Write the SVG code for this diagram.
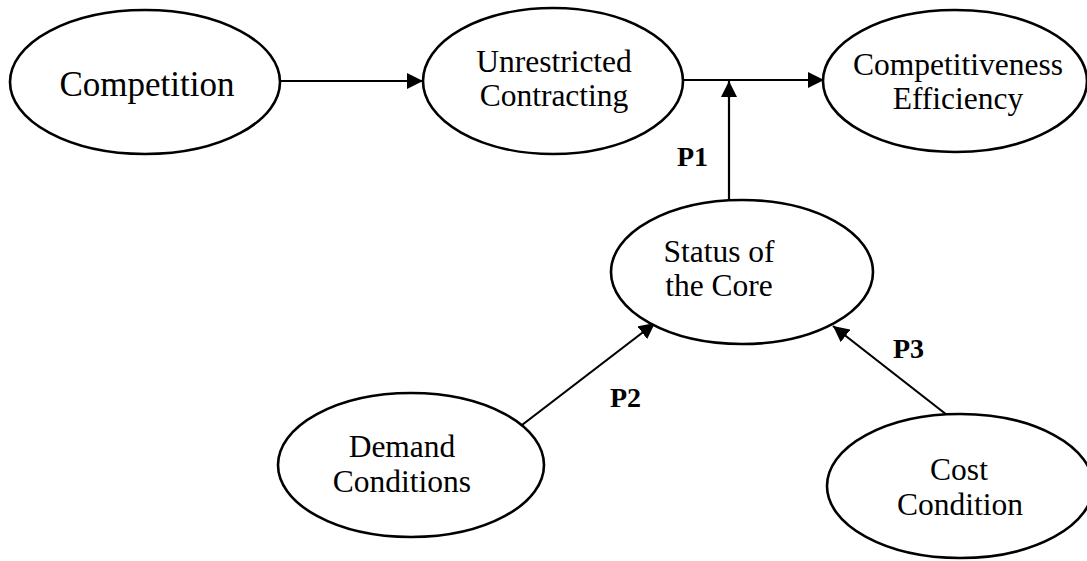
<svg xmlns="http://www.w3.org/2000/svg" width="1087" height="561" viewBox="0 0 1087 561">
<style>
.node ellipse{fill:#fff;stroke:#000;stroke-width:2.6}
.lbl{font-family:"Liberation Serif","Times New Roman",serif;font-size:31.5px;fill:#000;text-anchor:middle}
.p{font-family:"Liberation Serif","Times New Roman",serif;font-size:28px;font-weight:bold;fill:#000}
.conn line{stroke:#000;stroke-width:2.2;fill:none}
</style>
<defs>
<marker id="arr" markerUnits="userSpaceOnUse" markerWidth="18" markerHeight="16" refX="16" refY="8" orient="auto">
<path d="M0,0 L16,8 L0,16 Z" fill="#000"/>
</marker>
</defs>
<rect width="1087" height="561" fill="#fff"/>
<g class="conn" id="connectors">
<line x1="280" y1="81" x2="423" y2="81" marker-end="url(#arr)"/>
<line x1="682" y1="80" x2="824" y2="80" marker-end="url(#arr)"/>
<line x1="729" y1="200" x2="729" y2="81" marker-end="url(#arr)"/>
<line x1="522" y1="425" x2="655" y2="323" marker-end="url(#arr)"/>
<line x1="947" y1="415" x2="833" y2="326" marker-end="url(#arr)"/>
</g>
<g class="node" id="competition">
<ellipse cx="145" cy="82" rx="135" ry="72"/>
<text class="lbl" x="147" y="96" style="font-size:35px">Competition</text>
</g>
<g class="node" id="unrestricted">
<ellipse cx="553" cy="81" rx="130" ry="73"/>
<text class="lbl" x="554" y="72">Unrestricted</text>
<text class="lbl" x="554" y="106">Contracting</text>
</g>
<g class="node" id="competitiveness">
<ellipse cx="955" cy="81" rx="132" ry="71"/>
<text class="lbl" x="958" y="75">Competitiveness</text>
<text class="lbl" x="958" y="109">Efficiency</text>
</g>
<g class="node" id="status">
<ellipse cx="742" cy="272" rx="131" ry="72"/>
<text class="lbl" x="719" y="262">Status of</text>
<text class="lbl" x="719" y="296">the Core</text>
</g>
<g class="node" id="demand">
<ellipse cx="411" cy="465" rx="133" ry="72"/>
<text class="lbl" x="402" y="457">Demand</text>
<text class="lbl" x="402" y="492">Conditions</text>
</g>
<g class="node" id="cost">
<ellipse cx="960" cy="486" rx="133" ry="72"/>
<text class="lbl" x="959" y="480">Cost</text>
<text class="lbl" x="960" y="515">Condition</text>
</g>
<g id="labels">
<text class="p" x="677" y="166">P1</text>
<text class="p" x="610" y="407">P2</text>
<text class="p" x="893" y="358">P3</text>
</g>
</svg>
